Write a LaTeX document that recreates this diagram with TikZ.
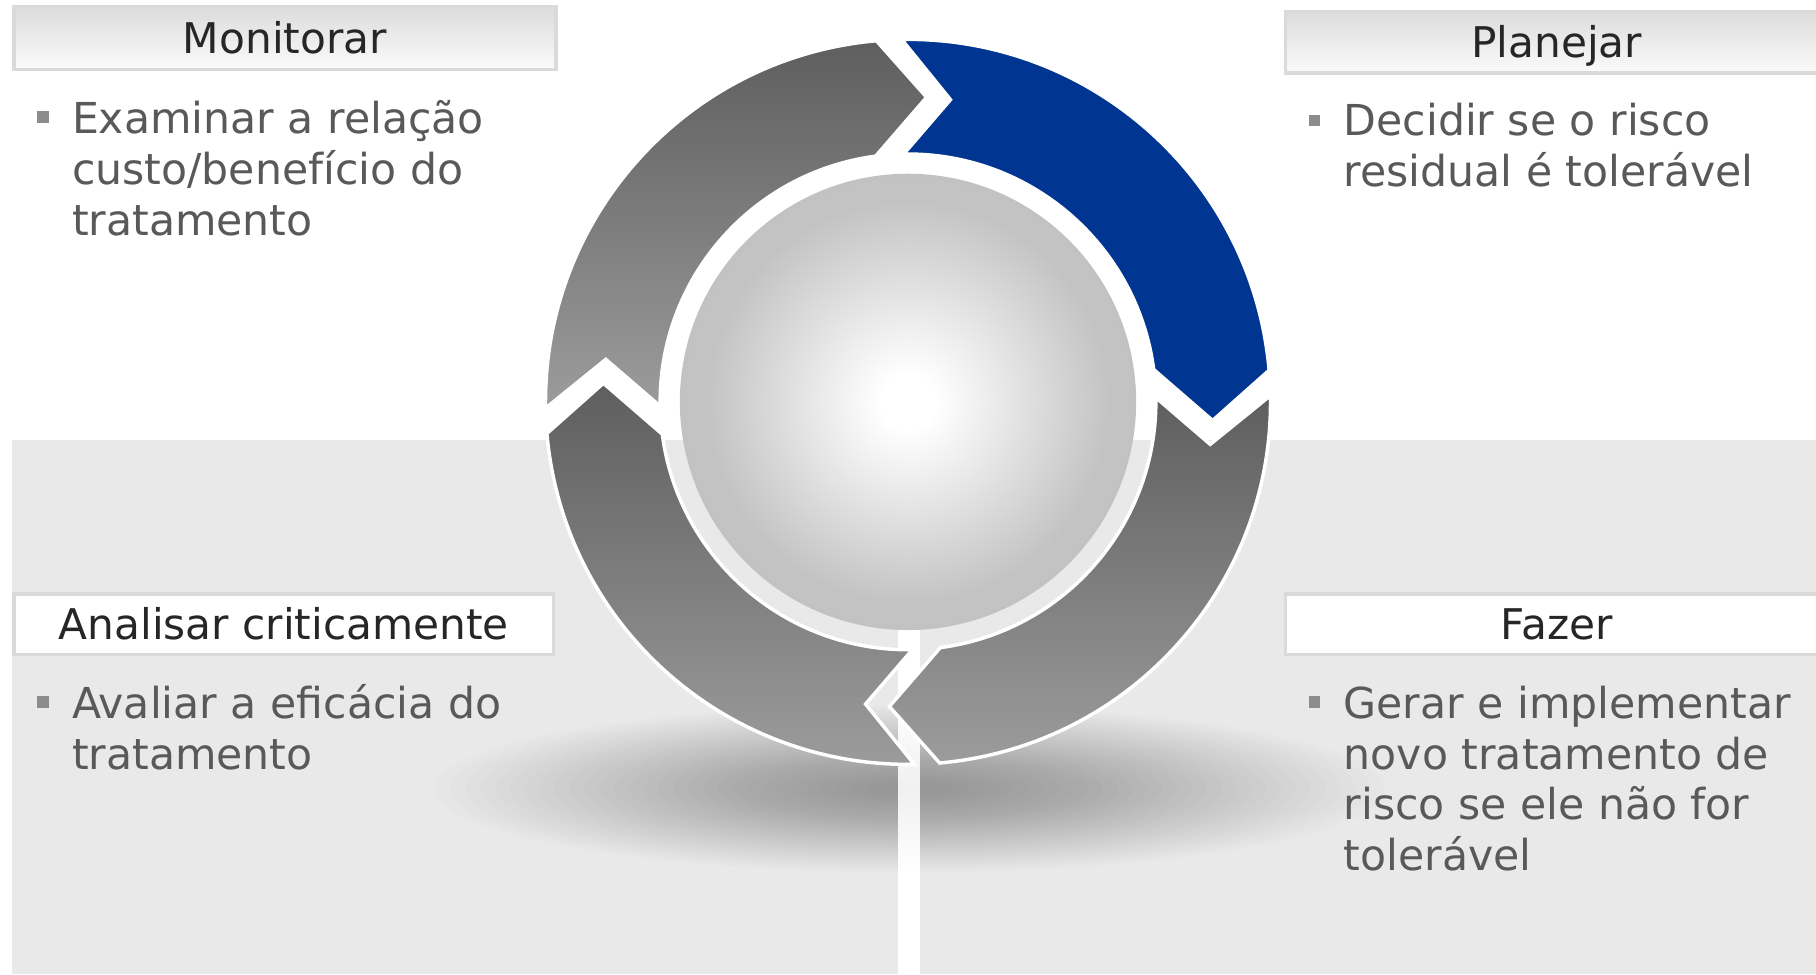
\documentclass[tikz,border=0pt]{standalone}
\usepackage{fontspec}
\setmainfont{DejaVu Sans}
\definecolor{panelgray}{HTML}{E9E9E9}
\definecolor{boxborder}{HTML}{DADADA}
\definecolor{hdrtop}{HTML}{DCDCDC}
\definecolor{hdrbot}{HTML}{FBFBFB}
\definecolor{segdark}{HTML}{5E5E5E}
\definecolor{seglight}{HTML}{9C9C9C}
\definecolor{planblue}{HTML}{003591}
\definecolor{hdrtext}{HTML}{262626}
\definecolor{bodytext}{HTML}{595959}
\definecolor{bulletgray}{HTML}{8C8C8C}
\pgfdeclareradialshading{spheresh}{\pgfpoint{0bp}{0bp}}{color(0bp)=(white); color(3bp)=(white); color(22bp)=(gray!47); color(50bp)=(gray!52)}
\begin{document}
\begin{tikzpicture}[x=1pt,y=1pt,
  hdrbox/.style={draw=boxborder, line width=3pt, minimum height=54pt, inner sep=0pt,
    text=hdrtext, font=\fontsize{36.5}{44}\selectfont, text height=26pt, text depth=0pt},
  hdrgrad/.style={hdrbox, top color=hdrtop, bottom color=hdrbot},
  hdrwhite/.style={hdrbox, fill=white},
  bodytxt/.style={anchor=base west, align=left, inner sep=0pt, text=bodytext,
    font=\fontsize{36.8}{44}\selectfont},
  bulletsq/.style={fill=bulletgray, minimum size=10pt, inner sep=0pt},
  seg/.style={draw=white, line width=3pt, line join=miter},
  graysegment/.style={seg, top color=segdark, bottom color=seglight},
  bluesegment/.style={seg, fill=planblue}
]
\useasboundingbox (0,0) rectangle (1568,841);
\fill[white] (0,0) rectangle (1568,841);
% background panels
\fill[panelgray] (10,0) rectangle (775,461);
\fill[panelgray] (794,0) rectangle (1568,461);
% soft shadow
\coordinate (S) at (786,160);
\foreach \i in {1,...,30}{
  \fill[black, opacity=0.012] (S) ellipse[x radius={410pt*(1-(\i-1)/32)}, y radius={72pt*(1-(\i-1)/32)}];
}
\fill[white, opacity=0.85] (775,60) rectangle (794,300);
% ring
\coordinate (C) at (784,494);
\begin{scope}[shift={(C)}]
\foreach \o/\st in {0/bluesegment, -90/graysegment, -180/graysegment, -270/graysegment}{
  \path[\st] ({91+\o}:313pt) arc[start angle={91+\o}, end angle={5+\o}, radius=313pt]
    -- ({-3.5+\o}:263.5pt) -- ({7.5+\o}:214pt)
    arc[start angle={7.5+\o}, end angle={91+\o}, radius=214pt]
    -- ({82+\o}:263.5pt) -- cycle;
}
\end{scope}
% sphere
\shade[shading=spheresh] (C) circle[radius=197pt];
% headers
\node[hdrgrad, minimum width=468pt] (monh) at (246,808) {Monitorar};
\node[hdrgrad, minimum width=468pt, minimum height=53pt] (planh) at (1344,804.5) {Planejar};
\node[hdrwhite, minimum width=466pt, minimum height=52pt] (anah) at (245,302) {Analisar criticamente};
\node[hdrwhite, minimum width=468pt, minimum height=52pt] (fazh) at (1344,302) {Fazer};
% bodies (base anchor = baseline of last line)
\node[bulletsq] (monb) at (37,740) {};
\node[bodytxt] (mont) at (62,638) {Examinar a relação\\custo/benefício do\\tratamento};
\node[bulletsq] (planb) at (1135,737) {};
\node[bodytxt] (plant) at (1160,680) {Decidir se o risco\\residual é tolerável};
\node[bulletsq] (anab) at (37,235) {};
\node[bodytxt] (anat) at (62,177) {Avaliar a eficácia do\\tratamento};
\node[bulletsq] (fazb) at (1135,235) {};
\node[bodytxt] (fazt) at (1160,89) {Gerar e implementar\\novo tratamento de\\risco se ele não for\\tolerável};
\end{tikzpicture}
\end{document}
